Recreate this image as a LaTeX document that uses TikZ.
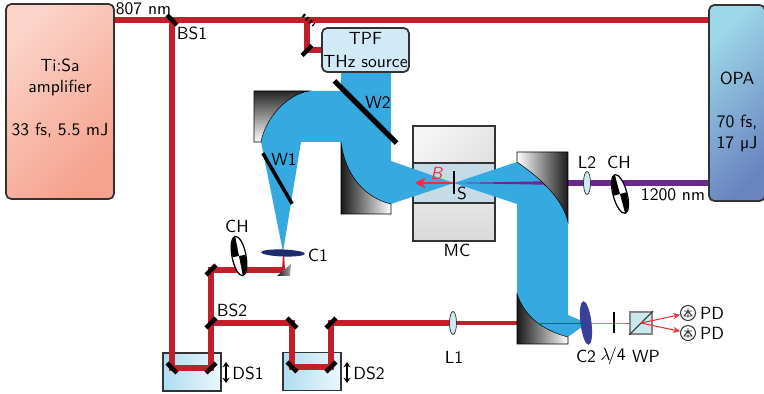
\documentclass[tikz,border=0pt]{standalone}
\usepackage{tikz}
\usetikzlibrary{arrows.meta,shapes.geometric}
\renewcommand{\familydefault}{\sfdefault}
\definecolor{Beam}{HTML}{35A9E0}
\definecolor{Pump}{HTML}{C1202A}
\definecolor{Idler}{HTML}{6A2A8A}
\definecolor{Field}{HTML}{E8303A}
\definecolor{Edge}{HTML}{333333}
\definecolor{Glass}{HTML}{CDE9F2}
\definecolor{TiTop}{HTML}{FBD3C8}
\definecolor{TiBot}{HTML}{F5A28E}
\definecolor{OpaTop}{HTML}{9DD8E8}
\definecolor{OpaBot}{HTML}{6A84C0}
\definecolor{MidGas}{HTML}{C5DCE8}
\definecolor{StageL}{HTML}{AEDDF2}
\definecolor{WpFill}{HTML}{C8E8EC}
\definecolor{CTwo}{HTML}{3A3F9C}
\definecolor{COne}{HTML}{1E2A6E}
\definecolor{Tpf}{HTML}{D2EAF8}
\begin{document}
\begin{tikzpicture}[
    x=0.02cm,y=-0.02cm,
    laser/.style={draw=Edge,line width=1pt,rounded corners=3pt,align=center,inner sep=0pt},
    label/.style={inner sep=0pt,align=center},
    pumpbeam/.style={draw=Pump,line width=3.1pt},
    probe/.style={draw=Pump,line width=0.5pt},
    mir/.style={fill=black,minimum width=.28cm,minimum height=.09cm,inner sep=0pt,rotate=#1},
    plate/.style={fill=black,minimum width=#1,minimum height=.07cm,inner sep=0pt},
    lens/.style={ellipse,draw=Edge,fill=Glass,line width=.4pt,minimum width=.14cm,minimum height=.46cm,inner sep=0pt},
    chopper/.style={ellipse,draw=black,fill=white,line width=.7pt,minimum width=.28cm,minimum height=.8cm,inner sep=0pt,rotate=#1},
    stage/.style={draw=Edge,line width=1pt,left color=StageL,right color=StageL!25,minimum width=1.16cm,minimum height=.76cm,inner sep=0pt},
    cham/.style={draw=Edge,line width=1pt,minimum width=1.64cm,inner sep=0pt},
    pdiode/.style={circle,draw=Edge,line width=.6pt,minimum size=.3cm,inner sep=0pt},
    paraboloid/.style={draw=black,line width=.3pt},
    ray/.style={draw=Field,line width=.6pt,-{Stealth[length=4pt,width=3.5pt]}},
    shift arrow/.style={{Stealth[length=3pt,width=4pt]}-{Stealth[length=3pt,width=4pt]},line width=.8pt}
  ]
    \useasboundingbox (0,0) rectangle (764,394);

    \node[laser,top color=TiTop,bottom color=TiBot,shading angle=45,minimum width=2.16cm,minimum height=3.9cm] (tisa) at (60,101.5) {};
    \node[label] (tisatext) at (60,98.5) {Ti:Sa\\amplifier\\[12.5pt]33 fs, 5.5 mJ};
    \node[laser,top color=OpaTop,bottom color=OpaBot,shading angle=45,minimum width=1.12cm,minimum height=3.92cm] (opa) at (737,103) {};
    \node[label] (opatext) at (737,112) {OPA\\[12.5pt]70 fs,\\17 \textmu J};
    \node[cham,top color=gray!8,bottom color=gray!22,shading angle=45,minimum height=.74cm] (mctop) at (454,144.5) {};
    \node[cham,fill=MidGas,minimum height=.8cm] (mcmid) at (454,183) {};
    \node[cham,top color=gray!20,bottom color=gray!30,minimum height=.76cm] (mcbot) at (454,222) {};
    \node[stage] (dsa) at (192,372) {};
    \node[stage] (dsb) at (312,371.5) {};

    \coordinate (bsa) at (172,20);
    \coordinate (tap) at (307,20);
    \coordinate (tapm) at (307,50);
    \coordinate (dsal) at (172,368);
    \coordinate (dsar) at (211,368);
    \coordinate (bsb) at (211,323);
    \coordinate (turn) at (211,270);
    \coordinate (prism) at (283,270);
    \coordinate (ca) at (283,253);
    \coordinate (dsbul) at (292,323);
    \coordinate (dsbl) at (292,367);
    \coordinate (dsbr) at (331,367);
    \coordinate (dsbur) at (331,323);
    \coordinate (la) at (453,323);
    \coordinate (pmb) at (517,323);
    \coordinate (cb) at (587,323);
    \coordinate (qw) at (614,323);
    \coordinate (wp) at (641,323);
    \coordinate (sam) at (454,183);

    \path[fill=Beam] (341,72) -- (391,72) -- (391,161) -- (sam) -- (391,204)
      .. controls (365,198) and (345,175) .. (341,142) -- (301,142) -- (283,252) -- (261,142)
      .. controls (265,120) and (285,95) .. (309,91) -- (341,91) -- cycle;
    \path[fill=Beam] (sam) -- (517,162) .. controls (543,180) and (563,200) .. (568,222)
      -- (568,315) -- (cb) -- (568,337) .. controls (545,331) and (525,318) .. (517,294)
      -- (517,204) -- cycle;

    \node[laser,fill=Tpf,minimum width=1.74cm,minimum height=.88cm] (tpf) at (365.5,50)
      {TPF\\[1pt]THz source};

    \draw[pumpbeam] (tisa.east |- bsa) -- (bsa) -- (tap) -- (opa.west |- bsa);
    \draw[pumpbeam] (bsa) -- (dsal) -- (dsar) -- (bsb) -- (turn) -- (prism);
    \draw[pumpbeam] (tap) -- (tapm) -- (tpf.west |- tapm);
    \draw[pumpbeam] (bsb) -- (dsbul) -- (dsbl) -- (dsbr) -- (dsbur) -- (la);
    \fill[Pump] (prism) ++(-1,0) -- (ca) -- ++(1,0) -- ++(1,17) -- cycle;
    \draw[draw=Pump,line width=2.2pt] (la) -- (pmb);
    \draw[probe] (pmb) -- (cb) -- (qw) -- (wp);
    \draw[draw=Idler,line width=3.1pt] (opa.west |- sam) -- (544,183);
    \fill[Idler] (544,181.3) -- (sam) -- (544,184.7) -- cycle;
    \draw[Field,line width=1pt,-{Stealth[length=6pt,width=6pt]}] (sam) -- (415,183);

    \path[paraboloid,top color=black!85,bottom color=white] (254,91) -- (309,91)
      .. controls (285,95) and (265,120) .. (261,142) -- (254,142) -- cycle;
    \path[paraboloid,left color=black!90,right color=white] (341,142)
      .. controls (345,175) and (365,198) .. (391,204) -- (391,214) -- (341,214) -- cycle;
    \path[paraboloid,left color=white,right color=black!90] (517,152) -- (568,152) -- (568,222)
      .. controls (563,200) and (543,180) .. (517,162) -- cycle;
    \path[paraboloid,left color=black!90,right color=white] (517,294)
      .. controls (525,318) and (545,331) .. (568,337) -- (568,344) -- (517,344) -- cycle;
    \path[left color=black!90,right color=gray!70] (277,276) -- (291,264) -- (290,276) -- cycle;

    \draw[probe] (537,323) -- (cb);

    \node[mir=-45] (mbsa) at (bsa) {};
    \draw[black,line width=2.4pt,dash pattern=on 1.2pt off 1.4pt] (303,15) -- (314,25);
    \node[mir=45] (mtapm) at (307,50.5) {};
    \node[mir=-45] (mdsal) at (dsal) {};
    \node[mir=45] (mdsar) at (dsar) {};
    \node[mir=45] (mbsb) at (bsb) {};
    \node[mir=45] (mturn) at (turn) {};
    \node[mir=-45] (mdsbul) at (dsbul) {};
    \node[mir=-45] (mdsbl) at (dsbl) {};
    \node[mir=45] (mdsbr) at (dsbr) {};
    \node[mir=45] (mdsbur) at (dsbur) {};

    \node[plate=1.76cm,rotate=-45,minimum height=.1cm] (wb) at (365.5,112) {};
    \node[plate=1.17cm,rotate=-60] (wa) at (277.5,178.5) {};
    \node[plate=.46cm,minimum height=.035cm,rotate=90] (sample) at (sam) {};
    \node[plate=.42cm,minimum height=.04cm,rotate=90] (qwp) at (qw) {};

    \node[ellipse,fill=COne,minimum width=.88cm,minimum height=.14cm,inner sep=0pt,rotate=-2] (cone) at (ca) {};
    \node[ellipse,fill=CTwo,minimum width=.22cm,minimum height=.88cm,inner sep=0pt,rotate=7] (ctwo) at (586,323) {};
    \node[lens] (lone) at (la) {};
    \node[lens] (ltwo) at (587,183) {};
    \node[chopper=11] (cha) at (239,256) {};
    \node[chopper=15] (chb) at (620,194) {};
    \foreach \nm/\ang in {cha/11,chb/15} {
      \begin{scope}[shift={(\nm)},rotate=\ang]
        \clip (0,0) ellipse [x radius=6.5,y radius=19.5];
        \fill[black] (0,0) rectangle (-8,-21);
        \fill[black] (0,0) rectangle (8,21);
      \end{scope}
    }

    \draw[shift arrow] (226,362) -- (226,383);
    \draw[shift arrow] (347,362) -- (347,383);

    \node[draw=Edge!60,line width=1pt,fill=WpFill,minimum size=.44cm,inner sep=0pt] (wpbox) at (wp) {};
    \draw[Edge,line width=.6pt] (wpbox.south west) -- (wpbox.north east);
    \node[pdiode] (pda) at (688,313) {};
    \node[pdiode] (pdb) at (688,333) {};
    \draw[ray] (wp) -- (pda);
    \draw[ray] (wp) -- (pdb);
    \foreach \p in {pda,pdb} {
      \draw[Edge,line width=.5pt,shift={(\p)}] (0,-5) -- (0,5) (-4,-2) -- (4,-2) (0,-2) -- (-4,3) -- (4,3) -- cycle;
    }

    \node[label] at (143.5,9) {807 nm};
    \node[label] at (192,33) {BS1};
    \node[label] at (378,102) {W2};
    \node[label] at (284,159) {W1};
    \node[label] at (318,255) {C1};
    \node[label] at (237,226) {CH};
    \node[label] at (232,310) {BS2};
    \node[label] at (248,373) {DS1};
    \node[label] at (369,373) {DS2};
    \node[label] at (454,357) {L1};
    \node[label] at (587,162) {L2};
    \node[label] at (619,162) {CH};
    \node[label] at (673,195) {1200 nm};
    \node[label] at (462,193) {S};
    \node[label,text=Field] at (437,173) {\textit{B}};
    \node[label] at (457,250) {MC};
    \node[label] at (586,356) {C2};
    \node[label] at (613,356) {$\lambda$\kern-1.5pt/4};
    \node[label] at (646,356) {WP};
    \node[label] at (712,313) {PD};
    \node[label] at (712,333) {PD};
  \end{tikzpicture}
\end{document}
